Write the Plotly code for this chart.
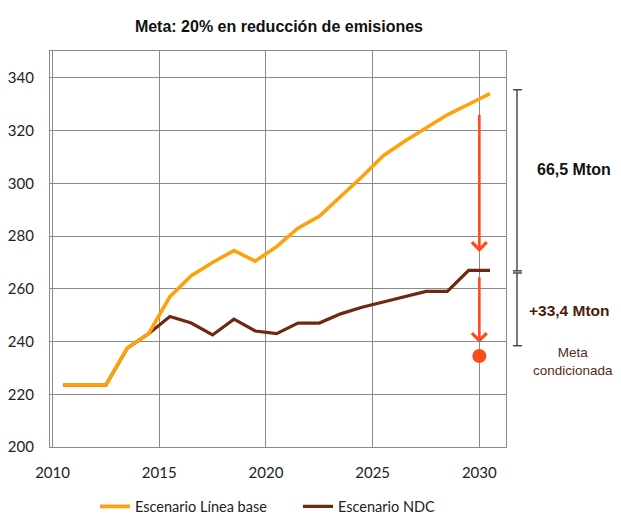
import plotly.graph_objects as go

# ---- data ----
years = [2010.5, 2011.5, 2012.5, 2013.5, 2014.5, 2015.5, 2016.5, 2017.5, 2018.5, 2019.5,
         2020.5, 2021.5, 2022.5, 2023.5, 2024.5, 2025.5, 2026.5, 2027.5, 2028.5, 2029.5, 2030.5]
linea_base = [223.5, 223.5, 223.5, 237.5, 243.0, 257.0, 265.0, 270.0, 274.5, 270.5,
              276.0, 283.0, 287.5, 295.0, 302.5, 310.5, 316.0, 321.0, 326.0, 330.0, 334.0]
ndc = [223.5, 223.5, 223.5, 237.5, 243.0, 249.5, 247.0, 242.5, 248.5, 244.0,
       243.0, 247.0, 247.0, 250.5, 253.0, 255.0, 257.0, 259.0, 259.0, 267.0, 267.0]

x_ticks = [2010, 2015, 2020, 2025, 2030]
y_ticks = [200, 220, 240, 260, 280, 300, 320, 340]

meta_year = 2030
arrow1 = (326.5, 274.0)   # from, to
arrow2 = (265.0, 239.5)
meta_condicionada = 234.5
bracket_upper = (335.5, 266.8)
bracket_lower = (266.0, 238.4)

ORANGE = "#FFA10A"
BROWN = "#6E2710"
RED = "#FF4A1A"
GRID = "#8a8a8a"

fig = go.Figure()
fig.add_trace(go.Scatter(x=years, y=ndc, mode="lines", name="Escenario NDC",
                         line=dict(color=BROWN, width=3.2), legendrank=2))
fig.add_trace(go.Scatter(x=years, y=linea_base, mode="lines", name="Escenario Línea base",
                         line=dict(color=ORANGE, width=3.6), legendrank=1))
fig.add_trace(go.Scatter(x=[meta_year], y=[meta_condicionada], mode="markers",
                         marker=dict(color=RED, size=14), showlegend=False, cliponaxis=False))

for a_from, a_to in (arrow1, arrow2):
    fig.add_annotation(x=meta_year, y=a_to, ax=meta_year, ay=a_from,
                       xref="x", yref="y", axref="x", ayref="y",
                       showarrow=True, arrowhead=4, arrowsize=1.1, arrowwidth=2.6,
                       arrowcolor=RED, text="")

# brackets on the right
bx, bl, br = 1.0241, 1.0153, 1.0351
for top, bot in (bracket_upper, bracket_lower):
    fig.add_shape(type="line", xref="paper", yref="y", x0=bx, x1=bx, y0=top, y1=bot,
                  line=dict(color="#333333", width=1.3))
    for yy in (top, bot):
        fig.add_shape(type="line", xref="paper", yref="y", x0=bl, x1=br, y0=yy, y1=yy,
                      line=dict(color="#333333", width=1.3))

fig.add_annotation(x=1.150, y=305.3, xref="paper", yref="y", text="<b>66,5 Mton</b>",
                   xanchor="center", showarrow=False,
                   font=dict(family="Liberation Sans, Arial", size=16, color="#111111"))
fig.add_annotation(x=1.140, y=251.8, xref="paper", yref="y", text="<b>+33,4 Mton</b>",
                   xanchor="center", showarrow=False,
                   font=dict(family="Liberation Sans, Arial", size=15.5, color="#4A1C0E"))
fig.add_annotation(x=1.146, y=232.5, xref="paper", yref="y", text="Meta<br>condicionada",
                   xanchor="center", showarrow=False,
                   font=dict(family="Liberation Sans, Arial", size=13.5, color="#5A2A1A"))

# page body adds an 8px offset; keep the page from overflowing the window
fig.update_layout(
    width=613, height=507,
    margin=dict(l=42, r=115, t=43, b=68, autoexpand=False),
    paper_bgcolor="white", plot_bgcolor="white",
    title=dict(text="<b>Meta: 20% en reducción de emisiones</b>", x=0.442, xanchor="center",
               y=0.9635, yref="container", yanchor="middle",
               font=dict(family="Liberation Sans, Arial", size=16, color="#111111")),
    legend=dict(orientation="h", x=0.0987, xanchor="left", y=-0.15, yanchor="middle",
                font=dict(family="Lato, Liberation Sans", size=14.5, color="#222222"),
                itemwidth=30, entrywidth=158, entrywidthmode="pixels"),
    xaxis=dict(range=[2009.88, 2031.25], tickvals=x_ticks, ticktext=[str(v) for v in x_ticks],
               showgrid=True, gridcolor=GRID, gridwidth=1.3, zeroline=False,
               showline=True, mirror=True, linecolor=GRID, linewidth=1.3,
               ticks="", ticklabelstandoff=12, automargin=False,
               tickfont=dict(family="Lato, Liberation Sans", size=15, color="#222222")),
    yaxis=dict(range=[200, 350.2], tickvals=y_ticks,
               showgrid=True, gridcolor=GRID, gridwidth=1.3, zeroline=False,
               showline=True, mirror=True, linecolor=GRID, linewidth=1.3,
               ticks="", ticklabelstandoff=12, automargin=False,
               tickfont=dict(family="Lato, Liberation Sans", size=15, color="#222222")),
)

fig.write_html("out.html")
